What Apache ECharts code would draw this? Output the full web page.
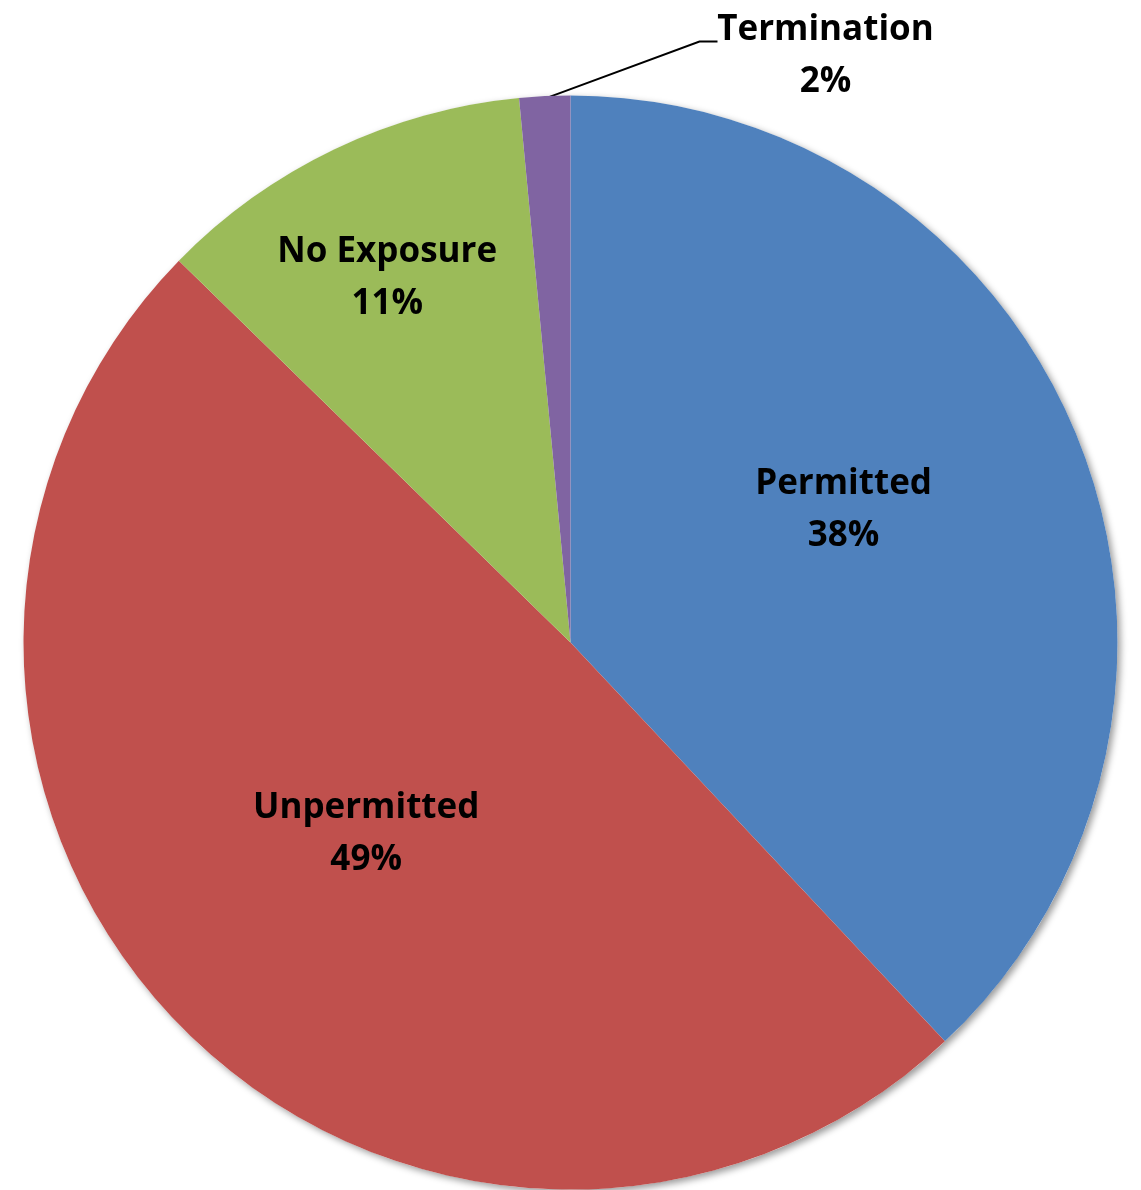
<!DOCTYPE html>
<html>
<head>
<meta charset="utf-8">
<script src="https://cdn.jsdelivr.net/npm/echarts@6/dist/echarts.min.js"></script>
<style>
  html, body { margin: 0; padding: 0; background: #ffffff; }
  #chart { width: 1141px; height: 1190px; }
</style>
</head>
<body>
<div id="chart"></div>
<script>
const categories = ['Permitted', 'Unpermitted', 'No Exposure', 'Termination'];
const values = [38.0, 49.3, 11.2, 1.5];
const colors = ['#4F81BD', '#C0504D', '#9BBB59', '#8064A2'];

const chart = echarts.init(document.getElementById('chart'), null, { renderer: 'canvas' });

const CX = 0.5, CY = 0.54, R = 547;

const data = categories.map((name, i) => ({
  name: name,
  value: values[i],
  itemStyle: { color: colors[i] },
  label: { position: i === 3 ? 'outside' : 'inside' },
  labelLine: { show: i === 3 }
}));

const option = {
  backgroundColor: '#ffffff',
  animation: false,
  series: [{
    type: 'pie',
    silent: true,
    z: 1,
    center: [CX * 100 + '%', CY * 100 + '%'],
    radius: R,
    label: { show: false },
    labelLine: { show: false },
    data: [{ value: 1, name: 'shadow' }],
    itemStyle: {
      color: '#ffffff',
      borderWidth: 0,
      shadowBlur: 7,
      shadowOffsetX: 3,
      shadowOffsetY: 3,
      shadowColor: 'rgba(0,0,0,0.4)'
    }
  }, {
    type: 'pie',
    z: 2,
    center: [CX * 100 + '%', CY * 100 + '%'],
    radius: R,
    startAngle: 90,
    clockwise: true,
    avoidLabelOverlap: false,
    data: data,
    itemStyle: { borderWidth: 0 },
    label: {
      show: true,
      color: '#000000',
      fontFamily: '"Open Sans", "Liberation Sans", sans-serif',
      fontWeight: 'bold',
      fontSize: 35,
      lineHeight: 52,
      align: 'center',
      formatter: p => p.name + '\n' + Math.round(p.percent) + '%'
    },
    labelLine: {
      lineStyle: { color: '#000000', width: 2 },
      smooth: false
    },
    labelLayout: function (p) {
      const w = chart.getWidth(), h = chart.getHeight();
      const cx = w * CX, cy = h * CY;
      if (p.dataIndex === 3) {
        return {
          x: cx + 255, y: cy - 587,
          align: 'center', verticalAlign: 'middle',
          labelLinePoints: [[cx - 23, cy - 545], [cx + 129, cy - 601], [cx + 147, cy - 601]]
        };
      }
      if (p.dataIndex === 0) return { dx: 16, dy: -31 };
      if (p.dataIndex === 2) return { dx: -64, dy: -115 };
      return { dx: -7, dy: -2 };
    }
  }]
};
chart.setOption(option);
</script>
</body>
</html>
